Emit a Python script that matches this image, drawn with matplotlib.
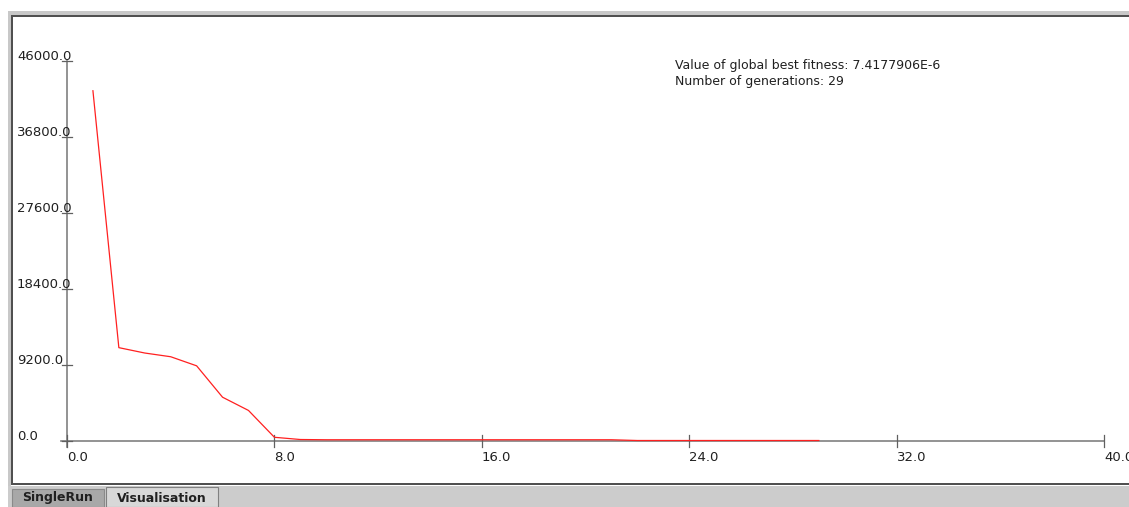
import matplotlib
matplotlib.use('Agg')
import matplotlib.pyplot as plt
from matplotlib.patches import Rectangle, Polygon

# generations and global best fitness per generation
generations = list(range(1, 30))
fitness = [42400, 11300, 10650, 10200, 9100, 5300, 3700, 450, 180,
           150, 150, 150, 150, 150, 150, 150, 150, 150, 150, 150, 150,
           60, 60, 60, 60, 60, 60, 60, 60]

x_ticks = [0.0, 8.0, 16.0, 24.0, 32.0, 40.0]
y_ticks = [0.0, 9200.0, 18400.0, 27600.0, 36800.0, 46000.0]
info_lines = ["Value of global best fitness: 7.4177906E-6",
              "Number of generations: 29"]
tab_names = ["SingleRun", "Visualisation"]

W, H = 1129, 507
fig = plt.figure(figsize=(W / 100, H / 100), dpi=100)
fig.patch.set_facecolor('white')

# window chrome, drawn in pixel coordinates
bg = fig.add_axes([0, 0, 1, 1])
bg.set_xlim(0, W)
bg.set_ylim(H, 0)
bg.axis('off')
bg.add_patch(Rectangle((8, 11), W - 8, 4, color='#c8c8c8', lw=0))
bg.add_patch(Rectangle((8, 11), 3, 476, color='#c8c8c8', lw=0))
bg.add_patch(Rectangle((11, 15), W - 11, 2, color='#505050', lw=0))
bg.add_patch(Rectangle((11, 15), 2, 470, color='#505050', lw=0))
bg.add_patch(Rectangle((11, 483), W - 11, 2, color='#505050', lw=0))
bg.add_patch(Rectangle((8, 486), W - 8, H - 486, color='#cccccc', lw=0))
bg.add_patch(Polygon([(12, 507), (12, 489), (104, 489), (104, 507)],
                     closed=True, fc='#a8a8a8', ec='#8a8a8a', lw=0.8))
bg.add_patch(Polygon([(106, 507), (106, 487), (218, 487), (218, 507)],
                     closed=True, fc='#d8d8d8', ec='#808080', lw=0.8))
bg.text(58, 498, tab_names[0], ha='center', va='center', fontsize=9,
        fontweight='bold', color='#202020')
bg.text(162, 498, tab_names[1], ha='center', va='center', fontsize=9,
        fontweight='bold', color='#202020')

# plotting area: x 0..40 -> px 67..1104, y 0..46000 -> px 441..61
x0, x1 = 67, 1104
y0, y1 = 441, 61
ax = fig.add_axes([x0 / W, (H - y0) / H, (x1 - x0) / W, (y0 - y1) / H])
ax.set_xlim(0, 40)
ax.set_ylim(0, 46000)
ax.set_facecolor('none')
ax.set_zorder(2)
for s in ax.spines.values():
    s.set_visible(False)
ax.set_xticks([])
ax.set_yticks([])

sx = 40 / (x1 - x0)
sy = 46000 / (y0 - y1)
axis_col = '#808080'
# axes lines overshooting the origin slightly
ax.plot([-6 * sx, 40], [0, 0], color=axis_col, lw=1.2, clip_on=False)
ax.plot([0, 0], [-6 * sy, 46000], color=axis_col, lw=1.2, clip_on=False)
for xt in x_ticks:
    ax.plot([xt, xt], [-6 * sy, 6 * sy], color='#606060', lw=0.9, clip_on=False)
    ax.text(xt, -10 * sy, f"{xt:.1f}", ha='left', va='top', fontsize=9.5,
            color='#202020', clip_on=False)
for yt in y_ticks:
    ax.plot([-5 * sx, 5 * sx], [yt, yt], color='#606060', lw=0.9, clip_on=False)
    ax.text(-50 * sx, yt - 2 * sy, f"{yt:.1f}", ha='left', va='bottom',
            fontsize=9.5, color='#202020', clip_on=False)

ax.plot(generations, fitness, color='#ff2020', lw=0.9, clip_on=False, zorder=3)

for i, line in enumerate(info_lines):
    ax.text(608 * sx, 46000 - (5 + 16 * i) * sy, line, ha='left', va='center',
            fontsize=9, color='#202020')

fig.savefig('out.png', dpi=100)
